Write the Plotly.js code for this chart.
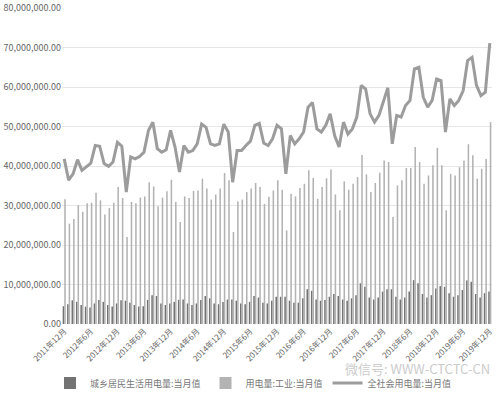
<!DOCTYPE html>
<html>
<head>
<meta charset="utf-8">
<script src="https://cdn.plot.ly/plotly-3.0.1.min.js"></script>
<style>html,body{margin:0;padding:0;background:#fff;}#chart{width:500px;height:397px;}</style>
</head>
<body>
<div id="chart"></div>
<script>
// Months: 2011年12月 .. 2019年12月 (97 months)
const startYear = 2011, startMonth = 12, monthCount = 97;
const tickLabels = ["2011年12月","2012年6月","2012年12月","2013年6月","2013年12月","2014年6月","2014年12月","2015年6月","2015年12月","2016年6月","2016年12月","2017年6月","2017年12月","2018年6月","2018年12月","2019年6月","2019年12月"];

// 城乡居民生活用电量:当月值 (万千瓦时)
const residential = [4.5,5.0,6.0,5.6,4.8,4.4,4.2,5.2,6.1,5.6,4.8,4.4,5.2,6.0,5.9,5.4,4.8,4.4,4.5,6.1,7.3,7.1,5.2,4.8,5.2,5.6,6.1,6.2,5.2,4.8,5.2,6.1,7.1,6.5,5.2,5.0,5.6,6.2,6.2,5.9,5.2,5.0,5.6,7.1,6.7,5.4,5.2,5.9,6.9,6.9,6.9,5.9,5.4,5.4,6.5,8.8,8.4,6.2,5.9,6.1,6.9,7.6,7.1,6.2,5.9,6.5,7.3,10.3,9.4,6.7,6.2,6.7,8.2,8.8,8.8,6.9,6.2,6.7,8.2,11.1,10.3,7.6,6.7,7.3,9.0,9.6,9.4,7.8,6.9,7.3,8.6,11.0,10.7,7.6,6.7,7.8,8.2].map(v => v * 1e6);

// 用电量:工业:当月值 (万千瓦时)
const industrial = [31.6,25.4,26.6,30.1,28.4,30.6,30.7,33.2,31.3,27.7,29.4,30.7,34.7,31.9,22.0,30.9,30.6,32.0,32.3,35.9,34.8,29.8,32.0,33.6,36.5,30.9,25.8,32.3,31.9,33.7,33.8,36.8,34.3,31.5,32.8,34.3,38.2,36.4,23.3,31.1,31.5,33.4,34.3,35.7,34.7,30.4,32.2,33.8,36.4,34.0,23.7,33.0,32.3,34.4,35.5,38.9,37.0,31.7,34.7,36.9,39.1,32.8,28.8,36.1,34.0,35.5,37.2,42.8,37.9,33.4,35.7,38.3,41.4,41.0,27.1,35.1,36.4,39.5,39.5,44.8,41.0,35.5,37.6,40.2,44.6,40.2,28.8,38.0,37.6,39.7,41.4,45.5,42.7,36.8,39.3,41.8,51.1].map(v => v * 1e6);

// 全社会用电量:当月值 (万千瓦时)
const total = [41.8,36.4,38.0,41.6,38.9,39.7,40.7,45.2,45.0,40.6,39.9,41.0,46.0,45.0,33.4,42.3,41.8,42.4,43.5,49.0,51.1,44.4,43.5,44.1,49.0,44.8,38.5,45.2,43.5,43.9,45.6,50.6,49.8,45.6,45.2,45.6,50.6,48.6,35.9,43.9,43.9,45.2,46.3,50.3,50.8,45.8,45.2,46.9,50.3,49.4,38.0,47.7,45.6,46.9,48.6,54.9,56.1,49.4,48.6,50.3,53.2,47.7,44.8,51.1,48.1,49.4,52.4,60.4,59.5,53.2,51.1,52.8,56.6,59.8,45.6,52.8,52.4,55.3,56.6,64.6,65.0,57.4,54.9,56.6,62.0,61.6,48.6,57.0,55.3,56.6,59.1,66.7,67.5,60.4,57.8,58.7,71.1].map(v => v * 1e6);

const months = [];
for (let i = 0; i < monthCount; i++) {
  const m = (startMonth - 1 + i) % 12 + 1;
  const y = startYear + Math.floor((startMonth - 1 + i) / 12);
  months.push(y + "年" + m + "月");
}

const font = "Noto Sans CJK SC, Noto Sans, sans-serif";

const traces = [
  {type: "bar", name: "城乡居民生活用电量:当月值", x: months, y: residential,
   marker: {color: "#737373", line: {width: 0}}},
  {type: "bar", name: "用电量:工业:当月值", x: months, y: industrial,
   marker: {color: "#b3b3b3", line: {width: 0}}},
  {type: "scatter", mode: "lines", name: "全社会用电量:当月值", x: months, y: total,
   line: {color: "#9c9c9c", width: 3}}
];

const layout = {
  width: 500, height: 397,
  margin: {l: 62, r: 8, t: 8, b: 73},
  paper_bgcolor: "#fff", plot_bgcolor: "#fff",
  font: {family: font, size: 9, color: "#666"},
  barmode: "group", bargap: 0.3, bargroupgap: 0,
  showlegend: true,
  legend: {orientation: "h", xref: "container", yref: "container",
           x: 0.10, xanchor: "left", y: 0.035, yanchor: "middle",
           font: {size: 9, color: "#777"}, traceorder: "normal",
           itemwidth: 30, tracegroupgap: 0},
  xaxis: {type: "category", tickmode: "array", tickvals: tickLabels, ticktext: tickLabels,
          tickangle: -45, showgrid: false, showline: false, ticks: "",
          tickfont: {size: 8, color: "#666"}, automargin: false},
  yaxis: {range: [0, 80000000], dtick: 10000000, tickformat: ",.2f",
          gridcolor: "#e6e6e6", gridwidth: 1, zeroline: false, showline: false,
          ticks: "", tickfont: {size: 9, color: "#666"}, automargin: false},
  annotations: [
    {text: "微信号: WWW-CTCTC-CN", xref: "paper", yref: "paper", x: 1.0, y: -0.14,
     xanchor: "right", yanchor: "middle", showarrow: false,
     font: {size: 13, color: "#cccccc", family: font}}
  ]
};

Plotly.newPlot("chart", traces, layout, {displayModeBar: false, staticPlot: true});
</script>
</body>
</html>
